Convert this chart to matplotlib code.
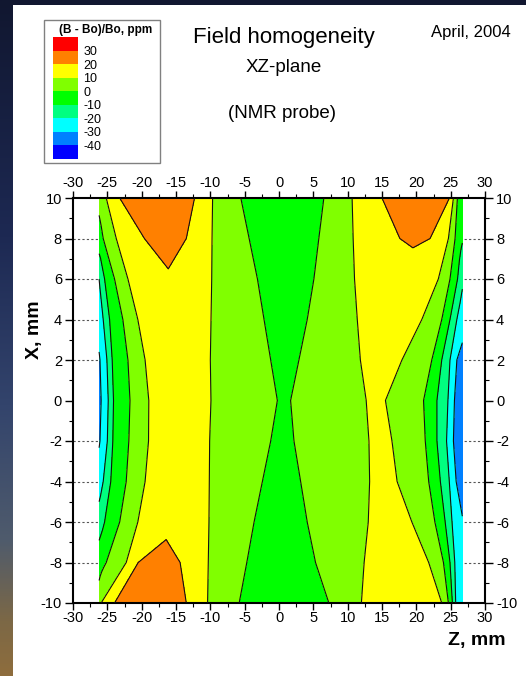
import numpy as np
import matplotlib
matplotlib.use("Agg")
import matplotlib.pyplot as plt
from matplotlib.colors import ListedColormap, BoundaryNorm, LinearSegmentedColormap
from matplotlib.cm import ScalarMappable
from matplotlib.patches import Rectangle

plt.rcParams['font.family'] = ['Liberation Sans', 'DejaVu Sans']
plt.rcParams['axes.unicode_minus'] = False

# map rows (X, mm); along each row the same 23 read points, left edge to right edge:
# edge, -30, -20, -10, 0, 10, 20, peak, 20, 10, 0, centre, 0, 10, 20, peak, 20, 10, 0, -10, -20, -30, edge
row_x = [10, 8, 6, 4, 2, 0, -2, -4, -6, -8, -10]

# Z position of each read point, mm
row_z = [
    [-26.2, -26.0, -25.8, -25.6, -25.4, -25.16, -23.2, -17.8, -12.3, -9.67, -5.56, 0.5, 6.53, 10.65, 15.0, 20.0, 24.82, 25.4, 25.98, 26.2, 26.4, 26.55, 26.7],
    [-26.2, -26.05, -25.9, -25.75, -25.6, -23.7, -19.6, -16.5, -13.5, -9.75, -4.35, 0.7, 5.8, 10.8, 17.6, 19.8, 22.0, 24.67, 25.64, 26.0, 26.25, 26.5, 26.7],
    [-26.2, -26.15, -26.05, -25.4, -23.95, -22.0, -19.0, -16.0, -13.0, -9.8, -3.14, 1.0, 5.08, 11.0, 16.0, 18.5, 21.0, 23.2, 24.9, 26.0, 26.3, 26.5, 26.7],
    [-26.2, -26.0, -25.6, -24.67, -22.74, -20.56, -18.0, -15.5, -12.5, -9.9, -2.18, 1.0, 4.11, 11.4, 14.0, 16.0, 18.5, 20.8, 23.7, 24.9, 25.9, 26.3, 26.7],
    [-26.2, -26.07, -25.06, -24.29, -22.0, -19.5, -17.0, -15.0, -12.5, -10.0, -1.21, 0.8, 2.9, 11.85, 13.5, 15.0, 16.5, 17.9, 22.25, 23.7, 24.9, 25.9, 26.7],
    [-26.2, -25.9, -24.87, -24.1, -21.7, -18.96, -16.5, -14.5, -12.0, -9.91, -0.24, 0.7, 1.69, 12.7, 13.4, 14.1, 14.8, 15.5, 21.05, 23.0, 24.6, 25.55, 26.7],
    [-26.2, -26.07, -25.0, -24.2, -21.87, -19.0, -16.5, -14.5, -12.0, -10.1, -1.21, 0.5, 2.18, 13.1, 14.0, 14.8, 15.6, 16.45, 21.3, 23.0, 24.4, 25.4, 26.7],
    [-26.2, -26.0, -25.6, -24.5, -22.25, -19.5, -17.5, -15.5, -12.8, -10.15, -2.42, 0.4, 3.15, 13.2, 14.2, 15.2, 16.2, 17.2, 21.8, 23.5, 24.8, 25.8, 26.7],
    [-26.2, -26.0, -25.7, -25.4, -23.2, -20.56, -18.5, -16.0, -13.5, -10.2, -3.63, 0.3, 4.11, 13.0, 14.5, 16.0, 17.7, 19.35, 22.7, 24.2, 25.2, 26.2, 26.7],
    [-26.2, -26.0, -25.75, -25.45, -25.16, -22.25, -20.5, -17.0, -14.4, -10.3, -4.69, 0.3, 5.32, 12.4, 15.0, 17.5, 19.8, 21.8, 23.95, 24.9, 25.6, 26.2, 26.7],
    [-26.2, -26.15, -26.1, -26.05, -25.98, -25.9, -23.95, -18.5, -13.5, -10.4, -5.8, 0.7, 7.26, 12.0, 15.0, 18.0, 21.0, 23.7, 24.67, 25.25, 25.73, 26.2, 26.7],
]

# (B - Bo)/Bo at each read point, ppm
row_b = [
    [3, 4, 5, 6.5, 8, 10, 20, 25, 20, 10, 0, -7, 0, 10, 20, 24, 20, 10, 0, -2, -3.5, -4.8, -6],
    [-4, -3, -2, -1, 0, 10, 20, 23, 20, 10, 0, -6, 0, 10, 20, 21.5, 20, 10, 0, -4, -6, -7.8, -9],
    [-20, -19.4, -18.1, -10, 0, 10, 16.5, 19, 16.5, 10, 0, -5, 0, 10, 13.5, 15, 13.5, 10, 0, -10, -13.5, -16, -18],
    [-26, -24, -20, -10, 0, 10, 15.5, 18, 15.5, 10, 0, -4, 0, 10, 13, 14.5, 13, 10, 0, -10, -20, -23, -26],
    [-31, -30, -20, -10, 0, 10, 15, 17, 15, 10, 0, -2.5, 0, 10, 12, 13, 12, 10, 0, -10, -20, -30, -33],
    [-32, -30, -20, -10, 0, 10, 15, 16.5, 15, 10, 0, -1, 0, 10, 11, 11.5, 11, 10, 0, -10, -20, -30, -37],
    [-31, -30, -20, -10, 0, 10, 15, 16.5, 15, 10, 0, -2.5, 0, 10, 11.5, 12, 11.5, 10, 0, -10, -20, -30, -36],
    [-25, -23.5, -20, -10, 0, 10, 15, 17, 15, 10, 0, -4, 0, 10, 12, 13, 12, 10, 0, -10, -20, -30, -33],
    [-15, -13.8, -12, -10, 0, 10, 15.5, 17.7, 15.5, 10, 0, -5, 0, 10, 13, 15, 13, 10, 0, -10, -20, -27, -29.5],
    [-4, -3, -2, -1, 0, 10, 20, 23, 20, 10, 0, -6, 0, 10, 14, 16, 14, 10, 0, -10, -20, -25, -28],
    [5, 5.8, 6.6, 7.6, 8.8, 10, 20, 25, 20, 10, 0, -7, 0, 10, 14.5, 17, 14.5, 10, 0, -10, -20, -23, -25],
]

levels = [-50, -40, -30, -20, -10, 0, 10, 20, 30, 40]
level_colors = ['#0000ff', '#0080ff', '#00ffff', '#00ff80', '#00ff00',
                '#80ff00', '#ffff00', '#ff8000', '#ff0000']
legend_ticks = [30, 20, 10, 0, -10, -20, -30, -40]
legend_labels = ['30', '20', '10', '0', '-10', '-20', '-30', '-40']

W, H = 526, 676
fig = plt.figure(figsize=(W / 100, H / 100), dpi=100)

# slide backdrop and white panel
bg = fig.add_axes([0, 0, 1, 1], zorder=-10)
bg.set_axis_off()
shade = LinearSegmentedColormap.from_list(
    'slide', [(0, '#111730'), (0.35, '#1d2953'), (0.6, '#33446c'),
              (0.8, '#4f5b6c'), (0.92, '#7c6846'), (1, '#8e6d3d')])
bg.imshow(np.linspace(0, 1, 256)[:, None], cmap=shade, aspect='auto',
          extent=(0, 1, 0, 1))
bg.set_xlim(0, 1)
bg.set_ylim(0, 1)
bg.add_patch(Rectangle((13 / W, 0), 1, 1 - 5 / H, facecolor='white', edgecolor='none'))
bg.add_patch(Rectangle((44 / W, 1 - 163 / H), 116 / W, 143 / H,
                       facecolor='white', edgecolor='#808080', lw=1))

# curvilinear grid: one row of the table per X
Zg = np.array(row_z, float)
Xg = np.repeat(np.array(row_x, float)[:, None], Zg.shape[1], axis=1)
Bg = np.array(row_b, float)

# main map
ax = fig.add_axes([73 / W, 1 - 603 / H, 412 / W, 405 / H])
for y in [-8, -6, -4, -2, 2, 4, 6, 8]:
    ax.axhline(y, color='#555555', lw=0.8, ls=(0, (2, 2)), zorder=1)

ax.contourf(Zg, Xg, Bg, levels=levels, colors=level_colors, zorder=2)
ax.contour(Zg, Xg, Bg, levels=levels[1:-1], colors='#111111', linewidths=0.8,
           linestyles='solid', zorder=3)

ax.set_xlim(-30, 30)
ax.set_ylim(-10, 10)
ax.set_xticks(np.arange(-30, 31, 5))
ax.set_xticks(np.arange(-30, 31, 2.5), minor=True)
ax.set_yticks(np.arange(-10, 11, 2))
ax.set_yticks(np.arange(-10, 11, 1), minor=True)
ax.tick_params(which='both', direction='out', top=True, right=True,
               labeltop=True, labelright=True, labelsize=10.5)
ax.tick_params(axis='x', which='major', length=5, width=1, pad=1)
ax.tick_params(axis='x', which='minor', length=3, width=0.8)
ax.tick_params(axis='y', which='major', length=6, width=1, pad=2)
ax.tick_params(axis='y', which='minor', length=3, width=0.8)
for s in ax.spines.values():
    s.set_linewidth(1.5)

fig.text(35 / W, 1 - 330 / H, 'X, mm', rotation=90, ha='center', va='center',
         fontsize=14, fontweight='bold')
fig.text(477 / W, 1 - 641 / H, 'Z, mm', ha='center', va='center',
         fontsize=14, fontweight='bold')

# titles
fig.text(284 / W, 1 - 38 / H, 'Field homogeneity', ha='center', va='center', fontsize=16)
fig.text(284 / W, 1 - 68 / H, 'XZ-plane', ha='center', va='center', fontsize=13.5)
fig.text(282 / W, 1 - 113 / H, '(NMR probe)', ha='center', va='center', fontsize=13.5)
fig.text(471 / W, 1 - 33 / H, 'April, 2004', ha='center', va='center', fontsize=12)

# legend
fig.text(106 / W, 1 - 30 / H, '(B - Bo)/Bo, ppm', ha='center', va='center',
         fontsize=8.5, fontweight='bold')
cax = fig.add_axes([53 / W, 1 - 159 / H, 25 / W, 122 / H])
sm = ScalarMappable(norm=BoundaryNorm(levels, len(level_colors)),
                    cmap=ListedColormap(level_colors))
cb = fig.colorbar(sm, cax=cax, ticks=legend_ticks)
cb.set_ticklabels(legend_labels)
cb.outline.set_visible(False)
cax.minorticks_off()
cax.tick_params(length=0, labelsize=9, pad=4)

fig.savefig('out.png', dpi=100)
